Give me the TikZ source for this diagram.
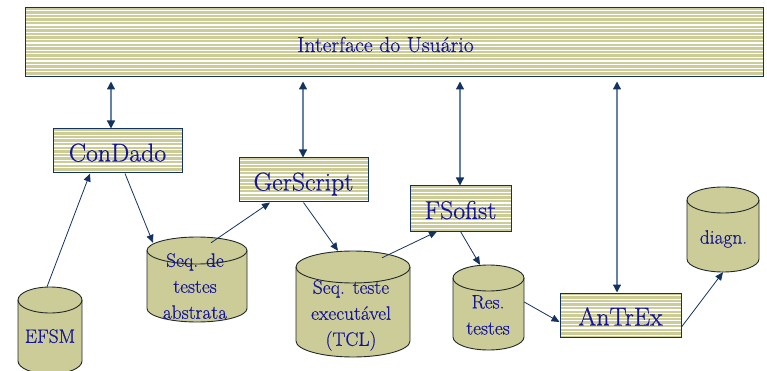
\documentclass[tikz,border=0pt]{standalone}
\usepackage{fontspec}
\setmainfont{Latin Modern Roman}[UprightFeatures={FakeBold=0.45}]
\usetikzlibrary{arrows.meta,calc}
\definecolor{khaki}{RGB}{204,204,153}
\definecolor{inkblue}{RGB}{20,20,150}
\definecolor{navy}{RGB}{20,50,95}
\definecolor{shaft}{RGB}{100,130,165}
\definecolor{rim}{RGB}{35,40,40}

\tikzset{
  striped/.style={fill=khaki, draw=navy, line width=1pt, inner sep=0pt, text=inkblue,
    path picture={\foreach \k in {1,...,24}{\draw[white,line width=1.1pt]
      ([yshift=-\k*3.6pt+1pt]path picture bounding box.north west) --
      ([yshift=-\k*3.6pt+1pt]path picture bounding box.north east);}}},
  tool/.style={striped, font=\fontsize{25.8}{30}\selectfont, text height=21pt, text depth=0pt},
  drumtext/.style={anchor=north, inner sep=0pt, align=center, text=inkblue,
    font=\fontsize{19.4}{26}\selectfont},
  link/.style={draw=navy, line width=0.8pt, -{Triangle[length=8pt,width=7pt]}},
  duplex/.style={draw=shaft, line width=1.3pt,
    {Triangle[length=8pt,width=8pt,color=navy]}-{Triangle[length=8pt,width=8pt,color=navy]}},
  drumbody/.style={fill=khaki, draw=rim, line width=0.9pt},
}

% storage drum: name, left x, right x, top y, bottom y, ellipse y-radius
\newcommand\drumshape[6]{%
  \pgfmathsetmacro\drumrx{(#3-#2)/2}%
  \filldraw[drumbody] (#2,#4+#6) -- (#2,#5-#6)
     arc[start angle=180,end angle=360,x radius=\drumrx pt,y radius=#6pt]
     -- (#3,#4+#6)
     arc[start angle=0,end angle=180,x radius=\drumrx pt,y radius=#6pt] -- cycle;
  \draw[drumbody,fill=none] (#2,#4+#6)
     arc[start angle=180,end angle=360,x radius=\drumrx pt,y radius=#6pt];
  \node[inner sep=0pt,minimum width={(#3-#2)*1pt},minimum height={(#5-#4)*1pt}]
     (#1) at ({(#2+#3)/2},{(#4+#5)/2}) {};
}

\begin{document}
\begin{tikzpicture}[x=1pt,y=-1pt]
\useasboundingbox (0,0) rectangle (767,371);
\begin{scope}
\clip (0,0) rectangle (767,371);

% user interface bar
\node[striped, minimum width=738pt, minimum height=69pt] (ui) at (394,42.5) {};
\node[anchor=base, text=inkblue, font=\fontsize{21.7}{26}\selectfont, inner sep=0pt]
  (uilabel) at (385.5,52) {Interface do Usuário};

% tools
\node[tool, minimum width=129pt, minimum height=44pt] (condado) at (117.5,151) {ConDado};
\node[tool, minimum width=129pt, minimum height=44pt] (gerscript) at (303.5,180) {GerScript};
\node[tool, minimum width=101pt, minimum height=45pt] (fsofist) at (460.5,208.5) {FSofist};
\node[tool, minimum width=121pt, minimum height=44pt] (antrex) at (620.5,315) {AnTrEx};

% data stores
\drumshape{efsm}{18}{82}{287}{374}{13}
\drumshape{abs}{147}{247}{237}{322}{13.5}
\drumshape{exec}{296}{410}{251}{357}{16}
\drumshape{res}{453}{524}{265}{350}{13}
\drumshape{diag}{687}{759}{187}{272}{13}

\node[drumtext] (efsmtext) at (50,329) {EFSM};
\node[drumtext] (abstext) at (195,253) {Seq. de\\testes\\abstrata};
\node[drumtext] (exectext) at (351,280) {Seq. teste\\executável\\(TCL)};
\node[drumtext] (restext) at (488,295) {Res.\\testes};
\node[drumtext] (diagtext) at (723.5,230) {diagn.};

% links to the user interface
\coordinate (cdtop) at ([xshift=-6.5pt]condado.north);
\coordinate (gstop) at ([xshift=-0.5pt]gerscript.north);
\coordinate (fstop) at ([xshift=-0.5pt]fsofist.north);
\coordinate (attop) at ([xshift=-3.5pt]antrex.north);
\foreach \c in {cdtop,gstop,fstop,attop}
  \draw[duplex, shorten <=4pt] (\c |- ui.south) -- (\c);

% data flow
\draw[link] ([xshift=-3pt]efsm.north) -- ([xshift=-27.5pt]condado.south);
\draw[link] ([xshift=7.5pt]condado.south) -- ([xshift=-44pt,yshift=-6pt]abs.north);
\draw[link] ([xshift=14pt,yshift=-6pt]abs.north) -- ([xshift=-33.5pt]gerscript.south);
\draw[link] (gerscript.south) -- ([xshift=-15pt]exec.north);
\draw[link] ([xshift=29pt,yshift=-7pt]exec.north) -- ([xshift=-23.5pt]fsofist.south);
\draw[link] (fsofist.south) -- ([xshift=-8.5pt]res.north);
\draw[link] ([yshift=5.5pt]res.east) -- ([yshift=-7pt]antrex.west);
\draw[link] ([yshift=-12pt]antrex.east) -- (diag.south);
\end{scope}
\end{tikzpicture}
\end{document}
